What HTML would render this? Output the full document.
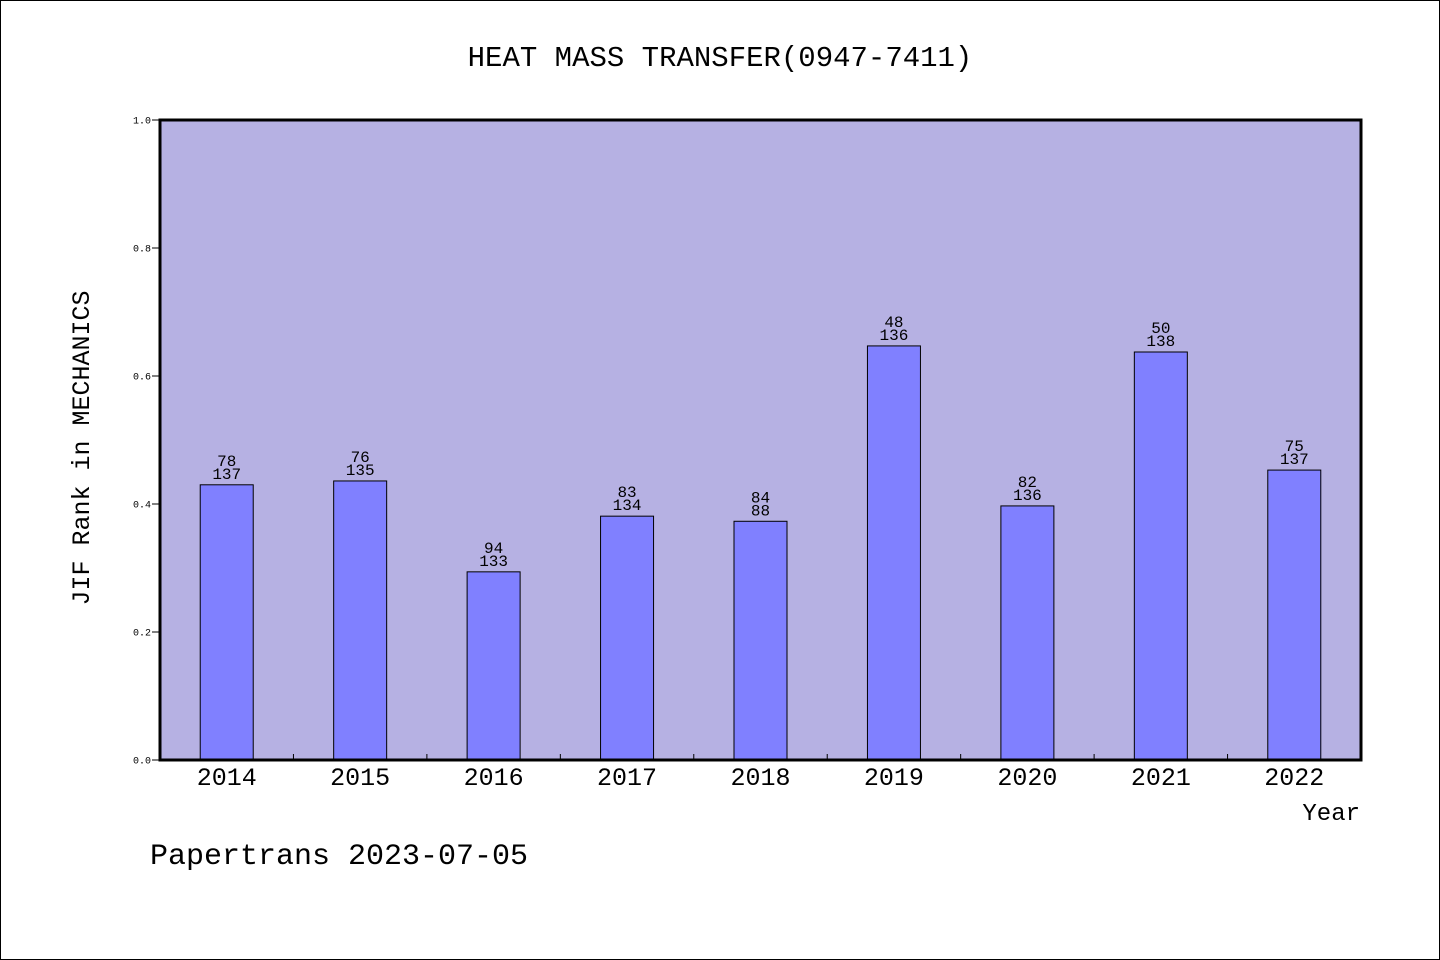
<!DOCTYPE html>
<html><head><meta charset="utf-8"><style>
html,body{margin:0;padding:0;background:#fff}
svg{display:block}
text{font-family:"Liberation Mono","WenQuanYi Zen Hei",monospace;fill:#000}
</style></head><body>
<svg id="chart" width="1440" height="960" xmlns="http://www.w3.org/2000/svg">
<rect x="0.5" y="0.5" width="1439" height="959" fill="#fff" stroke="#000"/>
<text x="720" y="66" font-size="29" text-anchor="middle">HEAT MASS TRANSFER(0947-7411)</text>
<rect x="160" y="120" width="1201" height="640" fill="#b6b1e3"/>
<g id="bars"></g>
<g id="yticks"></g>
<g id="xticks"></g>
<rect x="160" y="120" width="1201" height="640" fill="none" stroke="#000" stroke-width="3"/>
<text transform="translate(89,448) rotate(-90)" font-size="25" text-anchor="middle">JIF Rank in MECHANICS</text>
<text x="1360" y="820" font-size="24" text-anchor="end">Year</text>
<text x="150" y="864" font-size="30">Papertrans 2023-07-05</text>
</svg>
<script>
const years=["2014","2015","2016","2017","2018","2019","2020","2021","2022"];
const values=[0.430,0.436,0.294,0.381,0.373,0.647,0.397,0.6375,0.453];
const ranks=["78","76","94","83","84","48","82","50","75"];
const totals=["137","135","133","134","88","136","136","138","137"];
const yTickLabels=["0.0","0.2","0.4","0.6","0.8","1.0"];
const yTickValues=[0,0.2,0.4,0.6,0.8,1.0];
const NS="http://www.w3.org/2000/svg";
const X0=160,X1=1361,Y0=760,Y1=120;
const slot=(X1-X0)/years.length;
const xc=i=>X0+slot*(i+0.5);
const y=v=>Y0-(Y0-Y1)*v;
function mk(tag,attrs,parent){const e=document.createElementNS(NS,tag);for(const k in attrs)e.setAttribute(k,attrs[k]);parent.appendChild(e);return e;}
const bars=document.getElementById('bars'),yt=document.getElementById('yticks'),xt=document.getElementById('xticks');
years.forEach((yr,i)=>{
  const r=mk('rect',{x:xc(i)-26.5,y:y(values[i]),width:53,height:Y0-y(values[i]),fill:'#8080ff',stroke:'#000','stroke-width':1},bars);
  
  
  const t1=mk('text',{x:xc(i),y:y(values[i])-19,'font-size':16,'text-anchor':'middle'},bars);t1.textContent=ranks[i];
  
  
  const t2=mk('text',{x:xc(i),y:y(values[i])-6,'font-size':16,'text-anchor':'middle'},bars);t2.textContent=totals[i];
  
  
  const lt=mk('text',{x:xc(i),y:785,'font-size':25,'text-anchor':'middle'},xt);lt.textContent=yr;
  
  
  if(i>0){const tk=mk('line',{x1:X0+slot*i,x2:X0+slot*i,y1:Y0,y2:Y0-6,stroke:'#000'},xt);
  
  }
});
yTickValues.forEach((v,i)=>{
  const l=mk('line',{x1:X0-8,x2:X0,y1:y(v),y2:y(v),stroke:'#000'},yt);
  
  
  const t=mk('text',{x:X0-9,y:y(v)+3.5,'font-size':10,'text-anchor':'end'},yt);t.textContent=yTickLabels[i];
  
  
});
</script>
</body></html>
